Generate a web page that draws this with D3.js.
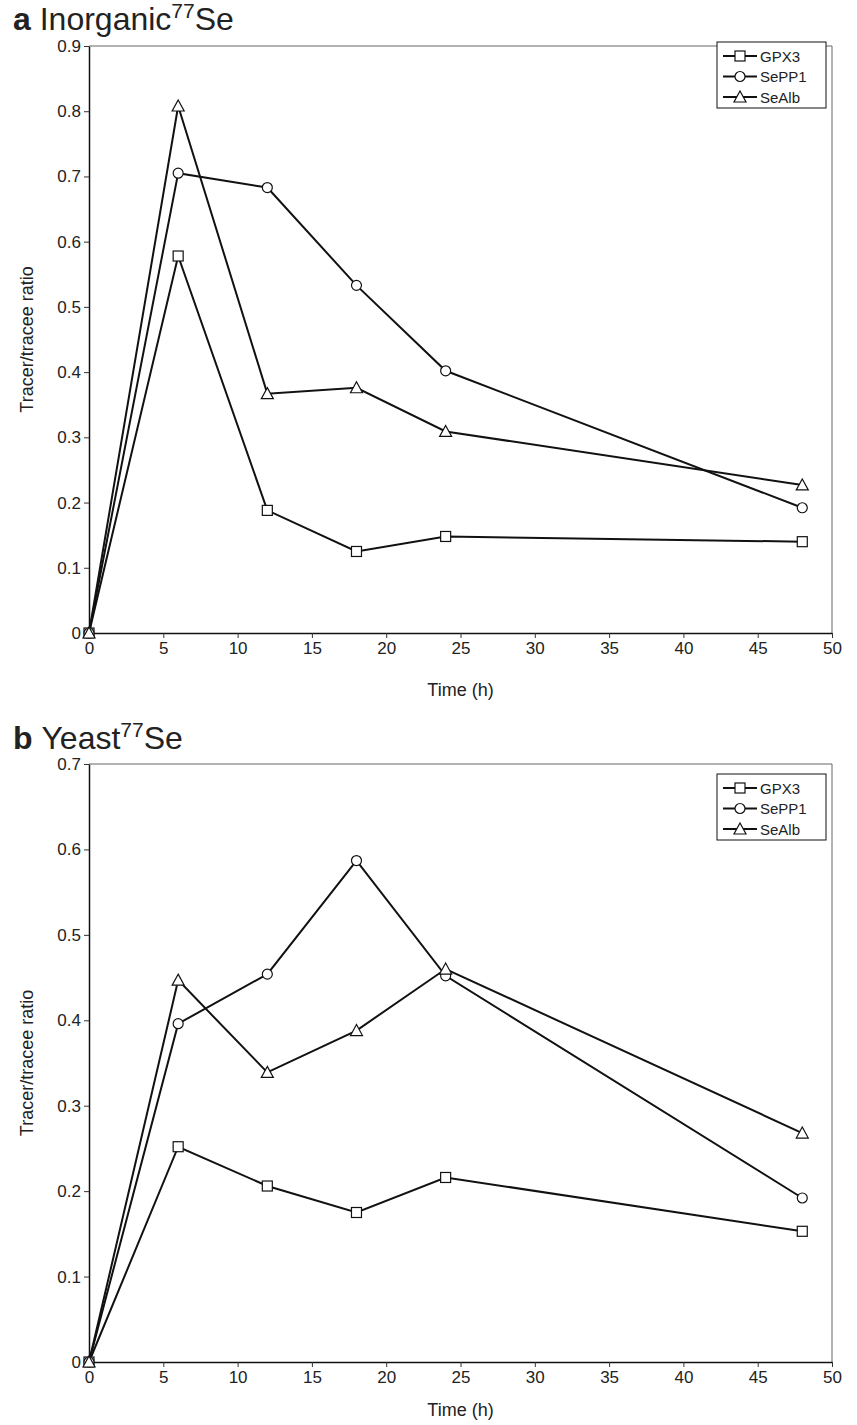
<!DOCTYPE html>
<html>
<head>
<meta charset="utf-8">
<script src="https://cdn.jsdelivr.net/npm/d3@7"></script>
<style>
  body { margin: 0; background: #fff; }
  svg text { font-family: "Liberation Sans", Arial, sans-serif; fill: #222; }
</style>
</head>
<body>
<svg id="chart" width="857" height="1425"></svg>
<script>
// time points (h)
var hours = [0, 6, 12, 18, 24, 48];
var seriesNames = ["GPX3", "SePP1", "SeAlb"];

// panel a - inorganic 77Se
var inorgGPX3  = [0, 0.578, 0.188, 0.125, 0.148, 0.140];
var inorgSePP1 = [0, 0.705, 0.683, 0.533, 0.402, 0.192];
var inorgSeAlb = [0, 0.808, 0.367, 0.376, 0.309, 0.227];

// panel b - yeast 77Se
var yeastGPX3  = [0, 0.252, 0.206, 0.175, 0.216, 0.153];
var yeastSePP1 = [0, 0.396, 0.454, 0.587, 0.452, 0.192];
var yeastSeAlb = [0, 0.447, 0.339, 0.388, 0.460, 0.268];

var xTicks = [0, 5, 10, 15, 20, 25, 30, 35, 40, 45, 50];
var yTicksA = [0, 0.1, 0.2, 0.3, 0.4, 0.5, 0.6, 0.7, 0.8, 0.9];
var yTicksB = [0, 0.1, 0.2, 0.3, 0.4, 0.5, 0.6, 0.7];

var svg = d3.select("#chart");

function markerShape(g, type) {
  // open markers, drawn at origin
  if (type == "GPX3") {
    g.append("rect").attr("x", -5).attr("y", -5).attr("width", 10).attr("height", 10);
  } else if (type == "SePP1") {
    g.append("circle").attr("r", 5);
  } else {
    g.append("path").attr("d", "M0,-6L6,5L-6,5Z");
  }
  g.selectAll("*").attr("fill", "#fff").attr("stroke", "#111").attr("stroke-width", 1.2);
}

function drawPanel(opts) {
  var x = d3.scaleLinear().domain([0, 50]).range([89, 832]);
  var y = d3.scaleLinear().domain([0, opts.yMax]).range([opts.bottom, opts.top]);

  var g = svg.append("g");

  // title
  var title = g.append("text").attr("x", 13).attr("y", opts.titleY).style("font-size", "32px");
  title.append("tspan").style("font-weight", "bold").text(opts.letter + " ");
  title.append("tspan").text(opts.name);
  title.append("tspan").attr("dy", -12).style("font-size", "21px").text("77");
  title.append("tspan").attr("dy", 12).text("Se");

  // grey frame on top and right
  g.append("line").attr("x1", x(0)).attr("x2", x(50)).attr("y1", y(opts.yMax)).attr("y2", y(opts.yMax))
    .attr("stroke", "#666").attr("stroke-width", 1);
  g.append("line").attr("x1", x(50)).attr("x2", x(50)).attr("y1", y(opts.yMax)).attr("y2", y(0))
    .attr("stroke", "#666").attr("stroke-width", 1);

  // axes
  var xAxis = g.append("g").attr("transform", "translate(0," + y(0) + ")")
    .call(d3.axisBottom(x).tickValues(xTicks).tickSize(5).tickSizeOuter(0).tickPadding(4));
  var yAxis = g.append("g").attr("transform", "translate(" + x(0) + ",0)")
    .call(d3.axisLeft(y).tickValues(opts.yTicks).tickSize(5).tickSizeOuter(0).tickPadding(3)
      .tickFormat(function(d){ return d == 0 ? "0" : d3.format(".1f")(d); }));
  [xAxis, yAxis].forEach(function(a) {
    a.select(".domain").attr("stroke", "#111").attr("stroke-width", 1.5);
    a.selectAll(".tick line").attr("stroke", "#333");
    a.selectAll(".tick text").style("font-size", "17px").attr("fill", "#222");
  });

  // axis titles
  g.append("text").attr("x", (x(0) + x(50)) / 2).attr("y", opts.bottom + opts.xTitleGap)
    .attr("text-anchor", "middle").style("font-size", "18px").text("Time (h)");
  g.append("text")
    .attr("transform", "translate(33," + ((opts.top + opts.bottom) / 2) + ") rotate(-90)")
    .attr("text-anchor", "middle").style("font-size", "18px").text("Tracer/tracee ratio");

  var line = d3.line().x(function(d, i){ return x(hours[i]); }).y(function(d){ return y(d); });

  opts.series.forEach(function(vals, k) {
    g.append("path").datum(vals).attr("d", line)
      .attr("fill", "none").attr("stroke", "#111").attr("stroke-width", 2);
  });
  opts.series.forEach(function(vals, k) {
    g.selectAll(null).data(vals).enter().append("g")
      .attr("transform", function(d, i){ return "translate(" + x(hours[i]) + "," + y(d) + ")"; })
      .each(function(){ markerShape(d3.select(this), seriesNames[k]); });
  });

  // legend
  var lg = g.append("g").attr("transform", "translate(717," + opts.legendTop + ")");
  lg.append("rect").attr("width", 109).attr("height", 66)
    .attr("fill", "#fff").attr("stroke", "#111").attr("stroke-width", 1);
  seriesNames.forEach(function(name, i) {
    var row = lg.append("g").attr("transform", "translate(0," + (14 + i * 20.5) + ")");
    row.append("line").attr("x1", 6).attr("x2", 40).attr("stroke", "#111").attr("stroke-width", 2);
    var m = row.append("g").attr("transform", "translate(23,0)");
    markerShape(m, name);
    row.append("text").attr("x", 43).attr("y", 5.5).style("font-size", "15px").text(name);
  });
}

drawPanel({ letter: "a", name: "Inorganic", titleY: 30, top: 46, bottom: 633, yMax: 0.9, xTitleGap: 63,
  yTicks: yTicksA, legendTop: 42, series: [inorgGPX3, inorgSePP1, inorgSeAlb] });
drawPanel({ letter: "b", name: "Yeast", titleY: 749, top: 764, bottom: 1362, yMax: 0.7, xTitleGap: 54,
  yTicks: yTicksB, legendTop: 774, series: [yeastGPX3, yeastSePP1, yeastSeAlb] });
</script>
</body>
</html>
